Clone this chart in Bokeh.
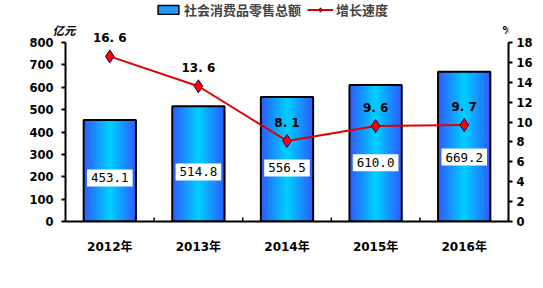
from bokeh.plotting import figure
from bokeh.models import (ColumnDataSource, Range1d, LinearAxis, FixedTicker, Legend,
                          LegendItem, Label, FactorRange)
from bokeh.transform import dodge
from bokeh.core.properties import value
from bokeh.embed import file_html
from bokeh.resources import INLINE

years = ["2012年", "2013年", "2014年", "2015年", "2016年"]
sales = [453.1, 514.8, 556.5, 610.0, 669.2]
growth = [16.6, 13.6, 8.1, 9.6, 9.7]
sales_labels = ["453.1", "514.8", "556.5", "610.0", "669.2"]
growth_labels = ["16. 6", "13. 6", "8. 1", "9. 6", "9. 7"]

src = ColumnDataSource(dict(
    year=years, sales=sales, growth=growth,
    sales_lab=sales_labels, growth_lab=growth_labels,
    lab_y=[v * 0.43 for v in sales],
    zero=[0] * len(years),
    tick_top=[18] * len(years),
))

CJK = "Noto Sans CJK SC"
NUM = "DejaVu Sans, Noto Sans CJK SC"

FRAME_H = 221          # frame spans canvas y 0..221
AX_H = 179             # axis spans 0..800 over 179 px
Y_TOP = 800 * FRAME_H / AX_H
P_TOP = 18 * FRAME_H / AX_H

p = figure(width=543, height=288, x_range=FactorRange(*years), y_range=Range1d(0, Y_TOP),
           output_backend="svg", toolbar_location=None,
           min_border_left=65, min_border_right=35, min_border_top=0, min_border_bottom=67)
p.outline_line_color = None
p.xgrid.visible = False
p.ygrid.visible = False
p.background_fill_color = "white"

# gradient bars (layered)
N = 14
edge = (45, 95, 255)
center = (0, 205, 255)
bw = 0.59
for i in range(N):
    t = i / (N - 1)
    c = tuple(int(edge[k] + (center[k] - edge[k]) * t) for k in range(3))
    col = "#%02x%02x%02x" % c
    w = bw * (1 - i / N)
    p.vbar(x="year", top="sales", width=w, source=src, fill_color=col, line_color=None)
p.vbar(x="year", top="sales", width=bw, source=src, fill_color=None,
       line_color="black", line_width=2)
bar_legend = p.vbar(x="year", top="sales", width=bw, source=src, fill_color="#1E9BFF",
                    line_color="black", line_width=1.5, visible=False)

# value labels in white boxes
p.text(x="year", y="lab_y", text="sales_lab", source=src, text_align="center",
       text_baseline="middle", text_font=value("DejaVu Sans Mono"), text_font_size="12.5px",
       text_color="black", background_fill_color="white", padding=4)

# category boundary ticks
p.segment(x0=dodge("year", 0.5, range=p.x_range), y0="zero",
          x1=dodge("year", 0.5, range=p.x_range), y1="tick_top", source=src,
          line_color="black", line_width=1.5)

# secondary axis
p.extra_y_ranges = {"pct": Range1d(0, P_TOP)}
line = p.line(x="year", y="growth", source=src, y_range_name="pct", line_color="#E00000",
              line_width=2)
pts = p.scatter(x="year", y="growth", source=src, y_range_name="pct", marker="diamond",
                size=13, fill_color="#FF0000", line_color="#200060", line_width=1)
p.text(x="year", y="growth", text="growth_lab", source=src, y_range_name="pct",
       y_offset=-18, text_align="center", text_baseline="middle",
       text_font=value(NUM), text_font_style="bold", text_font_size="12px", text_color="black")

def style_axis(ax):
    ax.axis_line_color = "black"
    ax.axis_line_width = 2
    ax.major_tick_line_color = "black"
    ax.major_tick_line_width = 2
    ax.minor_tick_line_color = None
    ax.major_label_text_font = NUM
    ax.major_label_text_font_style = "bold"
    ax.major_label_text_font_size = "11.5px"
    ax.major_label_text_color = "black"

ly = p.yaxis[0]
style_axis(ly)
ly.ticker = FixedTicker(ticks=list(range(0, 801, 100)))
ly.bounds = (0, 800)
ly.major_tick_out = 4
ly.major_tick_in = 0
ly.major_label_standoff = 8

ry = LinearAxis(y_range_name="pct", ticker=FixedTicker(ticks=list(range(0, 19, 2))),
                bounds=(0, 18))
style_axis(ry)
ry.major_tick_out = 4
ry.major_tick_in = 0
ry.major_label_standoff = 4
p.add_layout(ry, "right")

xa = p.xaxis[0]
style_axis(xa)
xa.major_tick_line_color = None
xa.major_label_standoff = 12
xa.major_label_text_font_size = "12px"

# unit labels
p.add_layout(Label(x=49, y=184, x_units="screen", y_units="screen", text="亿元",
                   text_font=CJK, text_font_style="bold italic", text_font_size="11.5px",
                   text_color="black"), "left")
p.add_layout(Label(x=437, y=831, x_units="screen", text="%",
                   text_font=NUM, text_font_style="bold", text_font_size="10px",
                   text_color="black"))

legend = Legend(items=[LegendItem(label="社会消费品零售总额", renderers=[bar_legend]),
                       LegendItem(label="增长速度", renderers=[line, pts])],
                orientation="horizontal", location=(90, 202),
                background_fill_alpha=0, border_line_color=None,
                label_text_font=CJK, label_text_font_style="bold", label_text_font_size="13px",
                glyph_width=26, glyph_height=11, spacing=6, padding=0, margin=0,
                label_standoff=3)
p.add_layout(legend, "center")

open("out.html", "w").write(file_html(p, INLINE))
